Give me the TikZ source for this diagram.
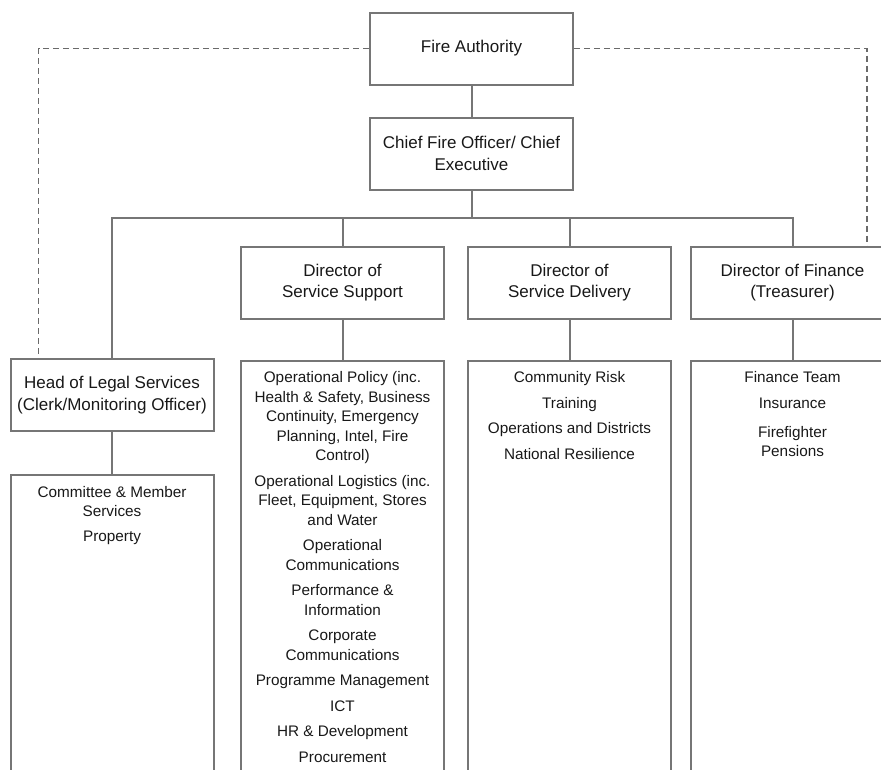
\documentclass[tikz,border=0pt]{standalone}
\usepackage{fontspec}
\setmainfont{Liberation Sans}
\usetikzlibrary{positioning, calc}
\definecolor{orgline}{HTML}{767676}
\definecolor{orgtext}{HTML}{181818}

\begin{document}
\begin{tikzpicture}[
  x=1pt, y=-1pt,
  node distance=31pt and 22pt,
  post/.style={rectangle, draw=orgline, line width=2pt, minimum width=203pt, minimum height=72pt, align=center, text=orgtext, font=\fontsize{17}{21.5}\selectfont},
  listbox/.style={rectangle, draw=orgline, line width=2pt, minimum width=203pt, minimum height=460pt, anchor=north},
  items/.style={align=center, inner sep=0pt, anchor=north, text=orgtext, font=\fontsize{15.3}{19.5}\selectfont},
  conn/.style={draw=orgline, line width=2pt},
  authline/.style={draw=orgline!90!black, line width=1.9pt, dash pattern=on 6pt off 4pt},
]
\useasboundingbox (0,0) rectangle (881,769);

% Top of the chart
\node[post] (fa) at (471.5,48.5) {Fire Authority};
\node[post, below=31pt of fa] (cfo) {Chief Fire Officer/ Chief\\Executive};

% Directors and head of legal
\node[post] (sup) at (342.5,282.5) {Director of\\Service Support};
\node[post, right=22pt of sup] (del) {Director of\\Service Delivery};
\node[post, right=18pt of del] (fin) {Director of Finance\\(Treasurer)};
\node[post] (legal) at (112,395) {Head of Legal Services\\(Clerk/Monitoring Officer)};

% Service lists
\node[listbox, below=42pt of legal] (legallist) {};
\node[listbox, below=40pt of sup] (suplist) {};
\node[listbox, below=40pt of del] (dellist) {};
\node[listbox, below=40pt of fin] (finlist) {};

\node[items, below=12pt of legallist.north] (legaltxt) {Committee \& Member\\Services\\[5.5pt]Property};
\node[items, below=12pt of suplist.north] (suptxt) {Operational Policy (inc.\\Health \& Safety, Business\\Continuity, Emergency\\Planning, Intel, Fire\\Control)\\[6pt]Operational Logistics (inc.\\Fleet, Equipment, Stores\\and Water\\[6pt]Operational\\Communications\\[6pt]Performance \&\\Information\\[6pt]Corporate\\Communications\\[6pt]Programme Management\\[6pt]ICT\\[6pt]HR \& Development\\[6pt]Procurement};
\node[items, below=12pt of dellist.north] (deltxt) {Community Risk\\[6pt]Training\\[6pt]Operations and Districts\\[6pt]National Resilience};
\node[items, below=12pt of finlist.north] (fintxt) {Finance Team\\[6pt]Insurance\\[9.5pt]Firefighter\\Pensions};

% Lines
\draw[conn] (fa) -- (cfo);
\draw[conn] (cfo.south) -- ++(0pt,-27pt) coordinate (bus);
\draw[conn] (legal.north) |- (bus) -| (fin.north);
\draw[conn] (sup.north) -- (sup.north |- bus);
\draw[conn] (del.north) -- (del.north |- bus);
\draw[conn] (legal) -- (legallist);
\draw[conn] (sup) -- (suplist);
\draw[conn] (del) -- (dellist);
\draw[conn] (fin) -- (finlist);

% Dashed links to the Fire Authority
\draw[authline] (fa.west) -| ($(legal.north west)+(29pt,0pt)$);
\draw[authline] (fa.east) -| ($(fin.north west)+(177pt,0pt)$);

\end{tikzpicture}
\end{document}
